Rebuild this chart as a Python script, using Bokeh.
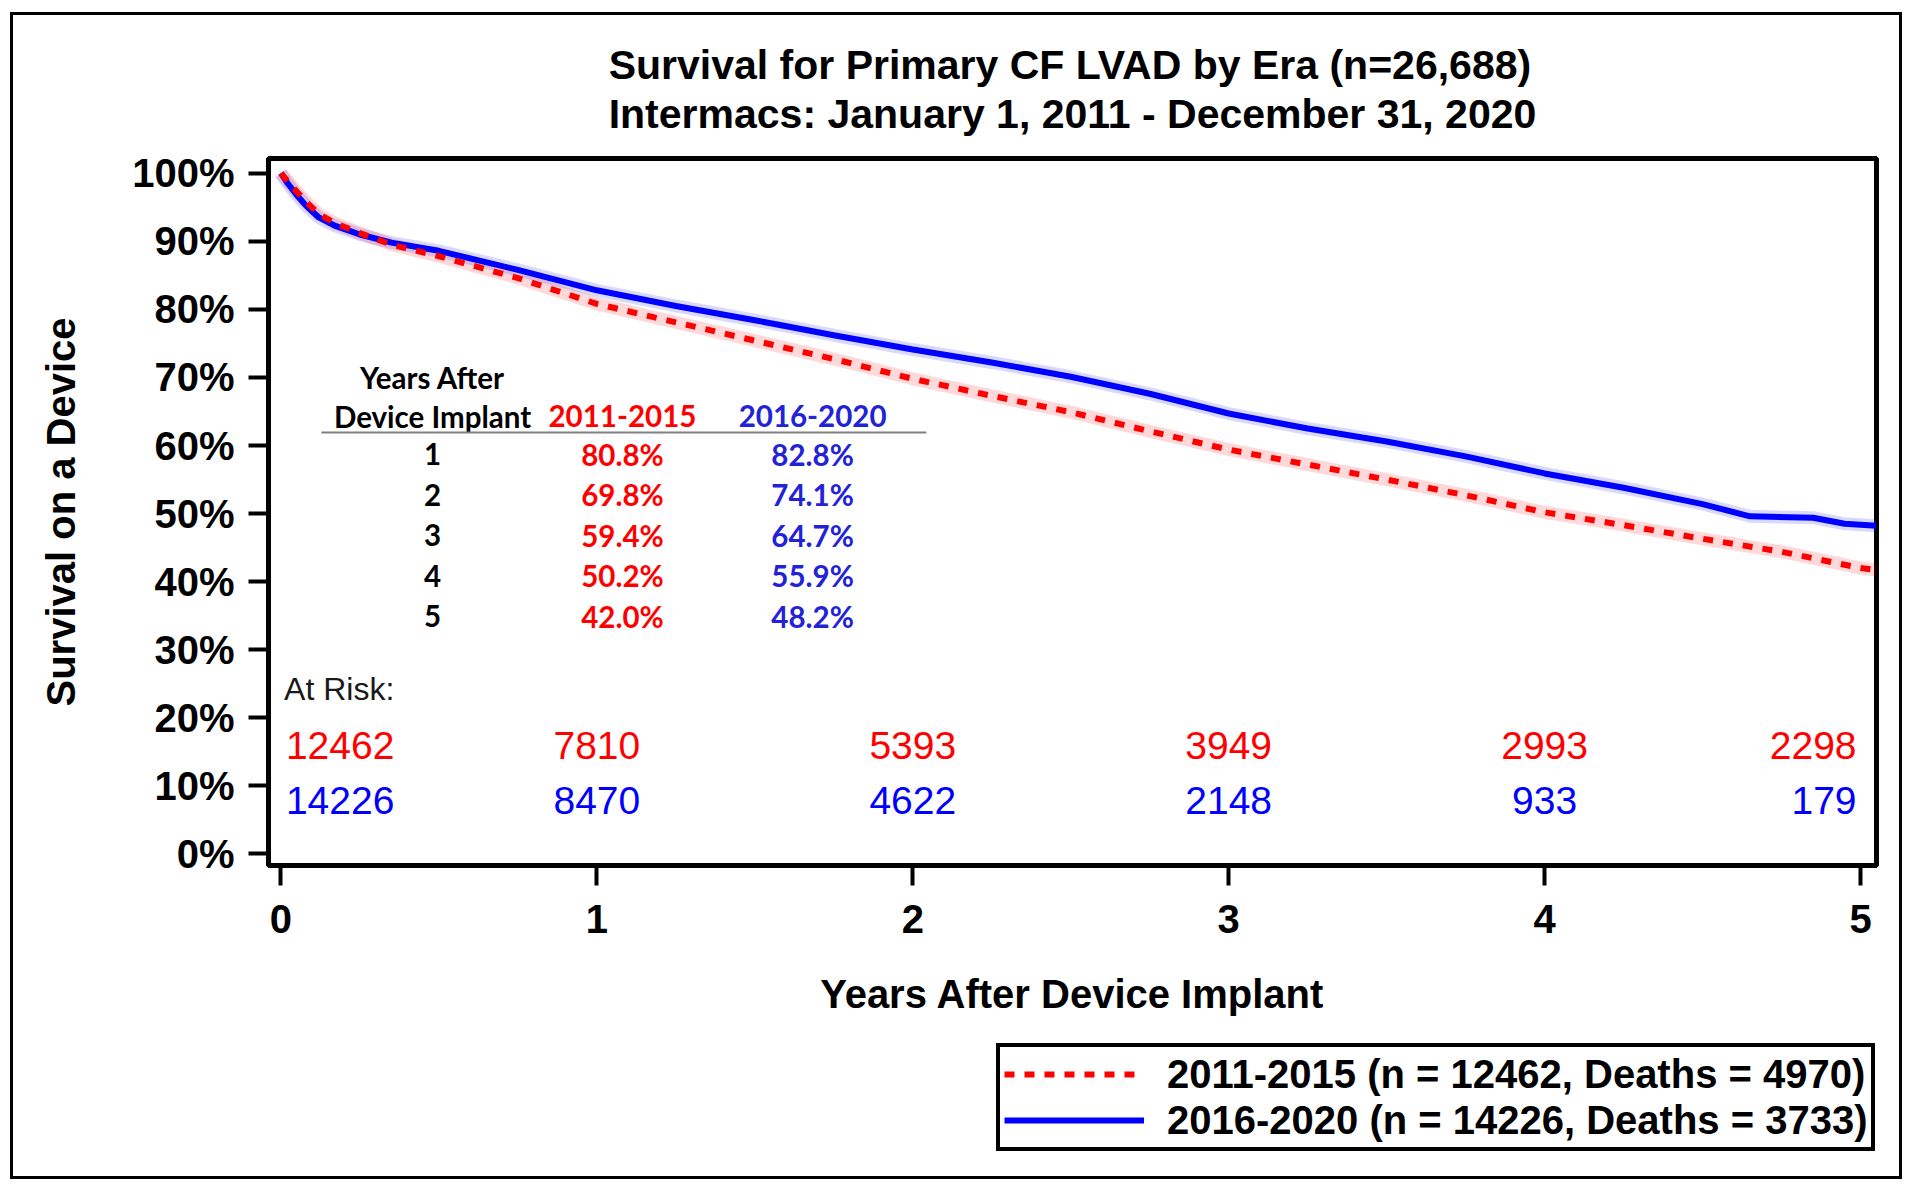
from bokeh.plotting import figure
from bokeh.layouts import column
from bokeh.models import FixedTicker, PrintfTickFormatter, Legend, LegendItem
from bokeh.core.properties import value
from bokeh.embed import file_html
from bokeh.resources import INLINE

# ---------------- data ----------------
title_lines = ["Survival for Primary CF LVAD by Era (n=26,688)",
               "Intermacs: January 1, 2011 - December 31, 2020"]
x_label = "Years After Device Implant"
y_label = "Survival on a Device"

eras = ["2011-2015", "2016-2020"]
legend_labels = ["2011-2015 (n = 12462, Deaths = 4970)",
                 "2016-2020 (n = 14226, Deaths = 3733)"]

years_red = [0, 0.02, 0.05, 0.08, 0.12, 0.17, 0.25, 0.35, 0.5, 0.75, 1.0, 1.25, 1.5,
             1.75, 2.0, 2.25, 2.5, 2.75, 3.0, 3.25, 3.5, 3.75, 4.0, 4.25, 4.5, 4.75, 5.0, 5.05]
surv_red = [100, 98.9, 97.3, 95.8, 94.0, 92.7, 91.2, 89.5, 87.8, 84.6, 80.8, 78.1, 75.4,
            72.7, 69.8, 67.3, 64.9, 62.1, 59.4, 57.2, 55.0, 52.7, 50.2, 48.3, 46.3, 44.4, 42.0, 41.7]

years_blue = [0, 0.02, 0.05, 0.08, 0.12, 0.17, 0.25, 0.35, 0.5, 0.75, 1.0, 1.25, 1.5,
              1.75, 2.0, 2.25, 2.5, 2.75, 3.0, 3.25, 3.5, 3.75, 4.0, 4.25, 4.5, 4.65,
              4.85, 4.95, 5.05]
surv_blue = [100, 98.6, 96.8, 95.2, 93.5, 92.3, 91.0, 89.8, 88.6, 85.8, 82.8, 80.5, 78.4,
             76.2, 74.1, 72.2, 70.1, 67.6, 64.7, 62.5, 60.6, 58.4, 55.9, 53.8, 51.4, 49.6,
             49.4, 48.5, 48.2]

table_years = [1, 2, 3, 4, 5]
table_red = ["80.8%", "69.8%", "59.4%", "50.2%", "42.0%"]
table_blue = ["82.8%", "74.1%", "64.7%", "55.9%", "48.2%"]

risk_times = [0, 1, 2, 3, 4, 5]
risk_red = [12462, 7810, 5393, 3949, 2993, 2298]
risk_blue = [14226, 8470, 4622, 2148, 933, 179]

x_ticks = [0, 1, 2, 3, 4, 5]
y_ticks = [0, 10, 20, 30, 40, 50, 60, 70, 80, 90, 100]

RED = "#ff0000"
BLUE = "#0000ff"
TBLUE = "#2222d8"
FONT = "Liberation Sans"
TFONT = "Lato"

# ---------------- main figure ----------------
p = figure(width=1886, height=1025, x_range=(-0.0393, 5.0506), y_range=(-1.69, 102.16),
           output_backend="svg", toolbar_location=None,
           min_border_left=255, min_border_right=23, min_border_top=143, min_border_bottom=175)
p.background_fill_color = "white"
p.border_fill_color = "white"
p.outline_line_color = "black"
p.outline_line_width = 5
p.xgrid.visible = False
p.ygrid.visible = False

p.title.text = "\n".join(title_lines)
p.title.align = "center"
p.title.text_font = FONT
p.title.text_font_size = "41px"
p.title.text_font_style = "bold"
p.title.text_color = "black"
p.title.text_line_height = 1.07
p.title.standoff = 42

for ax in (p.xaxis[0], p.yaxis[0]):
    ax.major_label_text_font = FONT
    ax.major_label_text_font_size = "40px"
    ax.major_label_text_font_style = "bold"
    ax.major_label_text_color = "black"
    ax.axis_label_text_font = FONT
    ax.axis_label_text_font_size = "40px"
    ax.axis_label_text_font_style = "bold"
    ax.axis_label_text_color = "black"
    ax.major_tick_out = 20
    ax.major_tick_in = 0
    ax.major_tick_line_width = 4
    ax.major_tick_line_color = "black"
    ax.minor_tick_line_color = None
    ax.axis_line_width = 5
    ax.axis_line_color = "black"

p.xaxis[0].ticker = FixedTicker(ticks=x_ticks)
p.xaxis[0].axis_label = x_label
p.xaxis[0].major_label_standoff = 19
p.xaxis[0].axis_label_standoff = 36

p.yaxis[0].ticker = FixedTicker(ticks=y_ticks)
p.yaxis[0].formatter = PrintfTickFormatter(format="%d%%")
p.yaxis[0].axis_label = y_label
p.yaxis[0].major_label_standoff = 14
p.yaxis[0].axis_label_standoff = 46

# ---------------- curves ----------------
p.line(years_blue, surv_blue, line_color=BLUE, line_width=13, line_alpha=0.15)
p.line(years_red, surv_red, line_color=RED, line_width=13, line_alpha=0.15)
p.line(years_blue, surv_blue, line_color=BLUE, line_width=6)
p.line(years_red, surv_red, line_color=RED, line_width=6, line_dash="10 10")

# ---------------- summary table ----------------
col_x = [0.48, 1.081, 1.683]
head_y = 64.3
row_y = [58.7 - 5.94 * i for i in range(len(table_years))]
tstyle = dict(text_font=value(TFONT), text_font_size="29.5px", text_font_style="bold",
              text_align="center", text_baseline="middle")
p.text(x=[col_x[0]], y=[70.0], text=["Years After"], text_color="black", **tstyle)
p.text(x=[col_x[0]], y=[head_y], text=["Device Implant"], text_color="black", **tstyle)
p.text(x=[col_x[1]], y=[head_y], text=[eras[0]], text_color=RED, **tstyle)
p.text(x=[col_x[2]], y=[head_y], text=[eras[1]], text_color=TBLUE, **tstyle)
p.segment(x0=[col_x[0] - 0.352], y0=[61.9], x1=[col_x[2] + 0.36], y1=[61.9],
          line_color="#808080", line_width=2)
p.text(x=[col_x[0]] * len(table_years), y=row_y, text=[str(v) for v in table_years],
       text_color="black", **tstyle)
p.text(x=[col_x[1]] * len(table_years), y=row_y, text=table_red, text_color=RED, **tstyle)
p.text(x=[col_x[2]] * len(table_years), y=row_y, text=table_blue, text_color=TBLUE, **tstyle)

# ---------------- at risk ----------------
p.text(x=[0.01], y=[24.2], text=["At Risk:"], text_font=value(FONT), text_font_size="32px",
       text_color="#1a1a1a", text_align="left", text_baseline="middle")


def risk_row(vals, yv, color):
    rs = dict(text_font=value(FONT), text_font_size="39px", text_color=color,
              text_baseline="middle")
    p.text(x=[risk_times[0]], y=[yv], text=[str(vals[0])], text_align="left", x_offset=5, **rs)
    p.text(x=risk_times[1:-1], y=[yv] * (len(vals) - 2), text=[str(v) for v in vals[1:-1]],
           text_align="center", **rs)
    p.text(x=[risk_times[-1]], y=[yv], text=[str(vals[-1])], text_align="right", x_offset=-4, **rs)


risk_row(risk_red, 16.0, RED)
risk_row(risk_blue, 7.9, BLUE)

# ---------------- legend strip (below the axis title) ----------------
# the key lines reuse the series, kept outside this strip's visible ranges
lf = figure(width=1886, height=136, x_range=(100, 101), y_range=(1000, 1001),
            output_backend="svg", toolbar_location=None,
            x_axis_type=None, y_axis_type=None,
            min_border_left=0, min_border_right=0, min_border_top=0, min_border_bottom=0)
lf.outline_line_color = None
lf.background_fill_color = "white"
lf.border_fill_color = "white"
lf.xgrid.visible = False
lf.ygrid.visible = False
key_r = lf.line(years_red, surv_red, line_color=RED, line_width=6, line_dash="10 10")
key_b = lf.line(years_blue, surv_blue, line_color=BLUE, line_width=6)

legend = Legend(items=[LegendItem(label=legend_labels[0], renderers=[key_r]),
                       LegendItem(label=legend_labels[1], renderers=[key_b])],
                location=(728, 25), orientation="vertical",
                label_text_font=FONT, label_text_font_size="40px", label_text_font_style="bold",
                label_text_color="black", glyph_width=140, glyph_height=46, label_height=46,
                label_standoff=23, padding=4, spacing=0, margin=0,
                border_line_color="black", border_line_width=4, border_line_alpha=1.0,
                background_fill_color="white", background_fill_alpha=1.0)
lf.add_layout(legend)

page = column(p, lf, spacing=0,
              styles={"margin-left": "13px", "margin-top": "15px", "outline": "3px solid black"})

open("out.html", "w").write(file_html(page, INLINE))
